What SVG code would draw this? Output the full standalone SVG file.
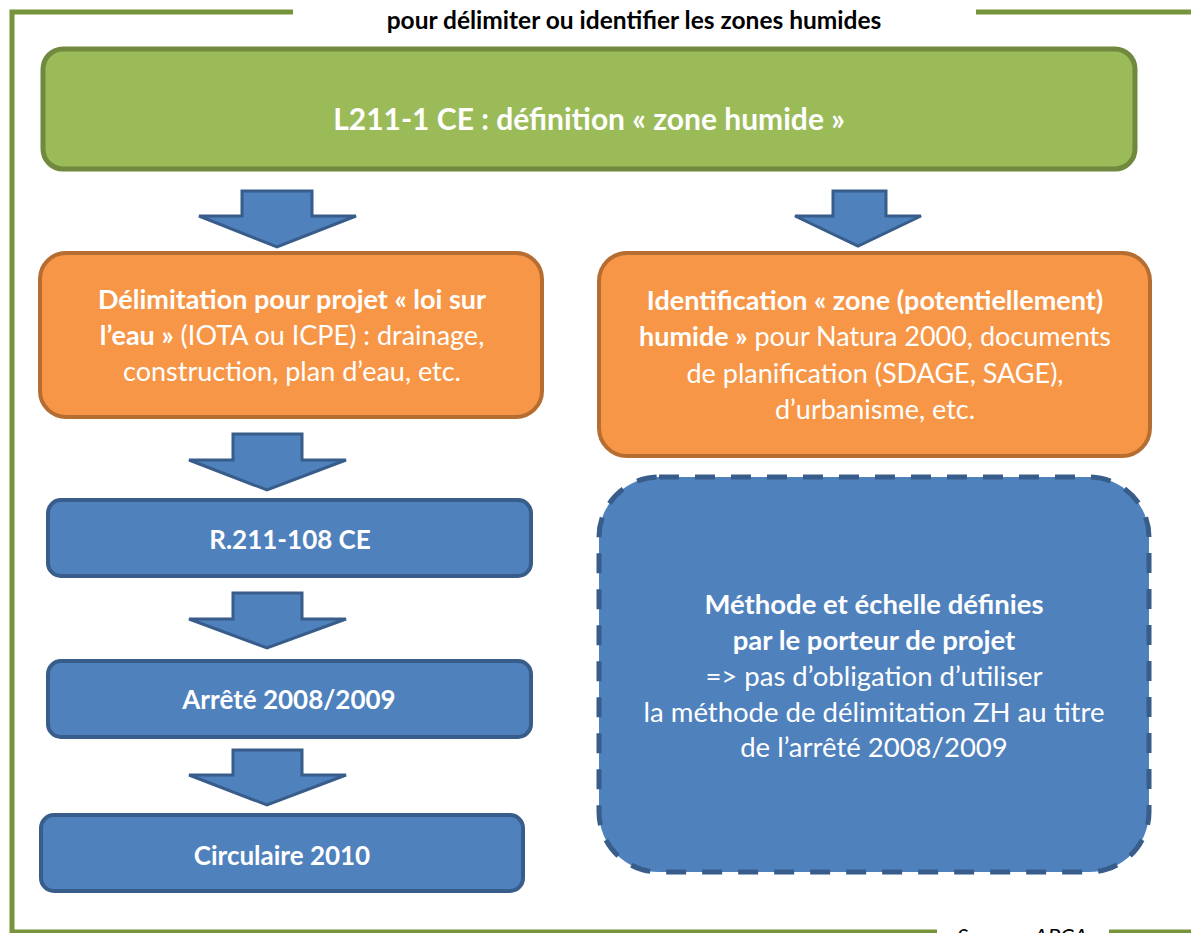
<svg xmlns="http://www.w3.org/2000/svg" width="1191" height="933" viewBox="0 0 1191 933">
<style>
.frame{fill:none;stroke:#77933C;stroke-width:5}
.green{fill:#9BBB59;stroke:#71893F;stroke-width:5}
.orange{fill:#F79646;stroke:#B66D31;stroke-width:4}
.blue{fill:#4F81BD;stroke:#385D8A;stroke-width:4}
.dash{fill:#4F81BD;stroke:#385D8A;stroke-width:5;stroke-dasharray:20 16}
.arrow{fill:#4F81BD;stroke:#385D8A;stroke-width:3;stroke-linejoin:miter}
text{font-family:Lato,"Open Sans","Liberation Sans",sans-serif;text-anchor:middle;fill:#FFFFFF}
.b{font-weight:bold}
.title{fill:#000000;font-weight:bold;font-size:24.5px}
.src{fill:#000000;font-style:italic;font-size:22px;text-anchor:start}
.t{font-size:27px}
.td{font-size:27.5px}
.tg{font-size:30px;font-weight:bold}
.tb{font-size:26px;font-weight:bold}
</style>
<g id="frame">
<path class="frame" d="M293 12 H12 V932 H937"/>
<line class="frame" x1="976" y1="12" x2="1191" y2="12"/>
<line class="frame" x1="1109" y1="932" x2="1191" y2="932"/>
<text class="title" x="634" y="29">pour délimiter ou identifier les zones humides</text>
<text class="src" x="957" y="944">Source : APCA</text>
</g>
<g id="connectors">
<polygon class="arrow" points="242,191 312,191 312,216 356,216 277,247 199,216 242,216"/>
<polygon class="arrow" points="833,191 886,191 886,216 921,216 858,246 795,216 833,216"/>
<polygon class="arrow" points="233,434 302,434 302,460 346,460 267,490 189,460 233,460"/>
<polygon class="arrow" points="233,593 302,593 302,619 346,619 267,648 189,619 233,619"/>
<polygon class="arrow" points="233,750 302,750 302,775 346,775 267,805 189,775 233,775"/>
</g>
<g id="node-definition">
<rect class="green" x="43" y="49" width="1092" height="120" rx="20"/>
<text class="tg" x="589" y="130">L211-1 CE : définition « zone humide »</text>
</g>
<g id="node-delimitation">
<rect class="orange" x="40" y="253" width="502" height="164" rx="26"/>
<text class="t" x="292" y="309"><tspan class="b">Délimitation pour projet « loi sur</tspan></text>
<text class="t" x="292" y="345"><tspan class="b">l’eau »</tspan> (IOTA ou ICPE) : drainage,</text>
<text class="t" x="292" y="381">construction, plan d’eau, etc.</text>
</g>
<g id="node-identification">
<rect class="orange" x="599" y="253" width="551" height="203" rx="28"/>
<text class="t" x="875" y="310"><tspan class="b">Identification « zone (potentiellement)</tspan></text>
<text class="t" x="875" y="346"><tspan class="b">humide »</tspan> pour Natura 2000, documents</text>
<text class="t" x="875" y="383">de planification (SDAGE, SAGE),</text>
<text class="t" x="875" y="419">d’urbanisme, etc.</text>
</g>
<g id="node-r211">
<rect class="blue" x="48" y="500" width="483" height="76" rx="13"/>
<text class="tb" x="290" y="549">R.211-108 CE</text>
</g>
<g id="node-arrete">
<rect class="blue" x="48" y="661" width="483" height="76" rx="13"/>
<text class="tb" x="289" y="709">Arrêté 2008/2009</text>
</g>
<g id="node-circulaire">
<rect class="blue" x="41" y="815" width="482" height="76" rx="13"/>
<text class="tb" x="282" y="865">Circulaire 2010</text>
</g>
<g id="node-methode">
<rect class="dash" x="599" y="477" width="550" height="395" rx="60"/>
<text class="td b" x="874" y="614">Méthode et échelle définies</text>
<text class="td b" x="874" y="650">par le porteur de projet</text>
<text class="td" x="874" y="686">=&gt; pas d’obligation d’utiliser</text>
<text class="td" x="874" y="722">la méthode de délimitation ZH au titre</text>
<text class="td" x="874" y="757">de l’arrêté 2008/2009</text>
</g>
</svg>
